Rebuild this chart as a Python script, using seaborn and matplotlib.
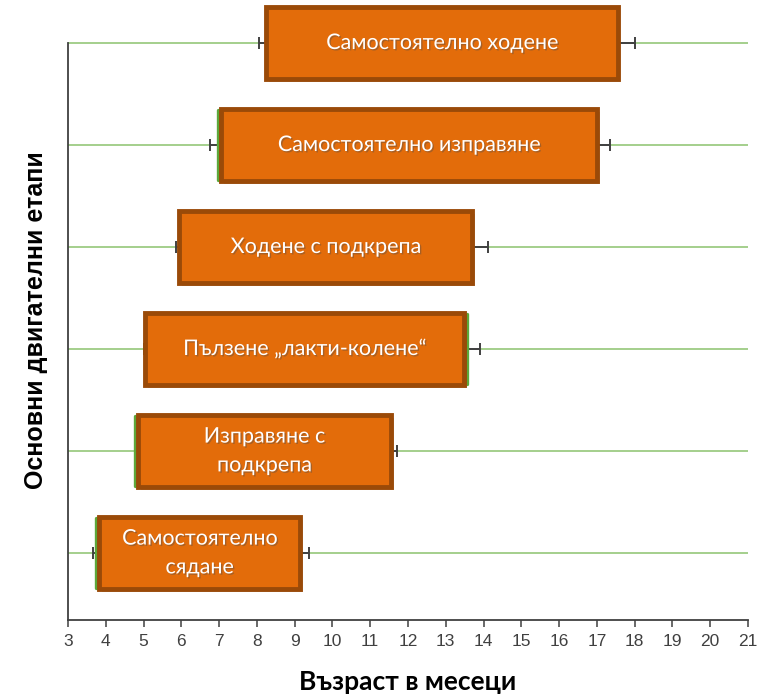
import numpy as np
import matplotlib
matplotlib.use("Agg")
import matplotlib.pyplot as plt
import matplotlib.patheffects as pe
import seaborn as sns

# motor milestones, top to bottom
milestones = ["Самостоятелно ходене", "Самостоятелно изправяне", "Ходене с подкрепа",
              "Пълзене „лакти-колене“", "Изправяне с\nподкрепа", "Самостоятелно\nсядане"]
bar_start = [8.25, 7.05, 5.95, 5.05, 4.85, 3.82]
bar_end = [17.55, 17.0, 13.7, 13.48, 11.55, 9.15]
whisk_low = [8.05, 6.75, 5.85, 5.0, 4.77, 3.67]
whisk_high = [18.02, 17.35, 14.12, 13.9, 11.72, 9.38]
green_edge = ["", "left", "", "right", "left", "left"]

sns.set_theme(style="white")
plt.rcParams["font.family"] = ["Liberation Sans", "DejaVu Sans"]

fig = plt.figure(figsize=(7.65, 6.95), dpi=100)
ax = fig.add_axes([0.0889, 0.1079, 0.8889, 0.8889])

ypos = np.arange(len(milestones))[::-1]
start = np.array(bar_start)
end = np.array(bar_end)
center = (start + end) / 2

# category gridlines
for y in ypos:
    ax.axhline(y, color="#9DCB84", lw=1.3, zorder=1)

# whiskers
ax.errorbar(center, ypos, xerr=[center - np.array(whisk_low), np.array(whisk_high) - center],
            fmt="none", ecolor="#404040", elinewidth=1.4, capsize=4.5, capthick=1.4, zorder=2)

bars = ax.barh(ypos, end - start, left=start, height=0.71, color="#E36C0A",
               edgecolor="#9A4A08", linewidth=3.5, zorder=3, clip_on=False)
for b in bars:
    b.set_path_effects([pe.SimplePatchShadow(offset=(2, -2), alpha=0.25), pe.Normal()])

# thin green edge left over from the hidden series
for y, s, e, g in zip(ypos, start, end, green_edge):
    if g:
        gx = s - 0.07 if g == "left" else e + 0.07
        ax.plot([gx, gx], [y - 0.345, y + 0.345], color="#5DA83A", lw=2.4, zorder=2.5)

for y, c, lab in zip(ypos, center, milestones):
    ax.text(c, y, lab, ha="center", va="center", color="white", fontsize=15.5,
            family=["Lato", "DejaVu Sans"], zorder=4, linespacing=1.55,
            path_effects=[pe.withSimplePatchShadow(offset=(1, -1), alpha=0.4)])

ax.set_xlim(3, 21)
ax.set_ylim(-0.657, 5.40)
ax.set_xticks(np.arange(3, 22))
ax.set_yticks([])
ax.tick_params(axis="x", bottom=True, length=5, width=1.1, color="#404040",
               labelsize=12.5, labelcolor="#404040", pad=5)

for side in ["top", "right"]:
    ax.spines[side].set_visible(False)
ax.spines["left"].set_bounds(-0.657, 5)
for side in ["left", "bottom"]:
    ax.spines[side].set_color("#404040")
    ax.spines[side].set_linewidth(1.3)

ax.set_xlabel("Възраст в месеци", fontsize=19, fontweight="bold", color="black",
              family=["Lato", "DejaVu Sans"], labelpad=15)
ax.set_ylabel("Основни двигателни етапи", fontsize=18, fontweight="bold", color="black",
              family=["Liberation Sans", "DejaVu Sans"])
ax.yaxis.set_label_coords(-0.03, 0.485)

fig.savefig("out.png", dpi=100)
